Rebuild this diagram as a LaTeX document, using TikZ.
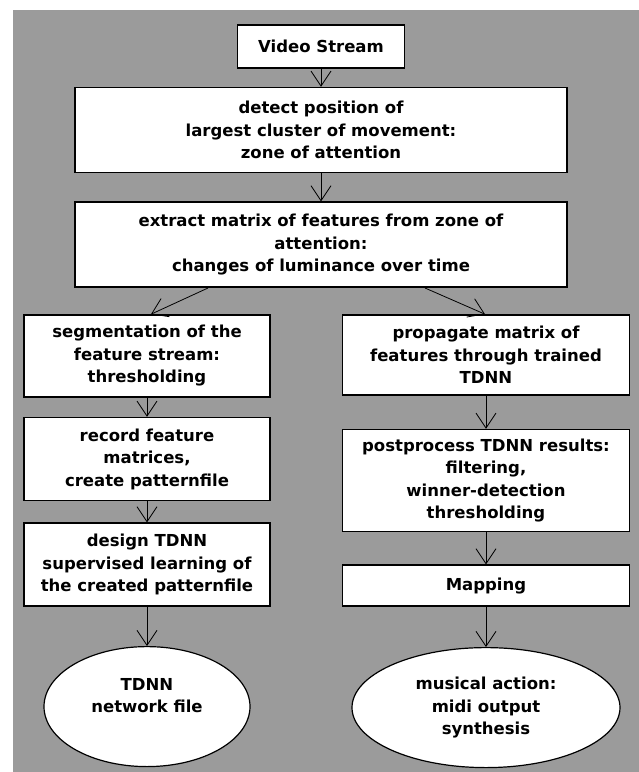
\documentclass[tikz,border=0pt]{standalone}
\usepackage{fontspec}
\setmainfont{DejaVu Sans}
\usetikzlibrary{arrows.meta,positioning,shapes.geometric}
\definecolor{bggray}{RGB}{155,155,155}

\begin{document}
\begin{tikzpicture}[
  x=1pt,y=-1pt,
  node distance=18pt and 20pt,
  box/.style={draw,line width=1.6pt,fill=white,align=center,inner sep=1pt,
              font=\bfseries\fontsize{16.5}{22.5}\selectfont},
  wide/.style={box,minimum width=492pt,minimum height=85pt},
  lcol/.style={box,minimum width=246pt,minimum height=83pt},
  rcol/.style={box,minimum width=287pt,minimum height=80pt},
  oval/.style={ellipse,draw,line width=1.2pt,fill=white,align=center,inner sep=0pt,
               minimum height=120pt,font=\bfseries\fontsize{16.5}{22.5}\selectfont},
  arr/.style={-{Straight Barb[length=15pt,width=20pt]},line width=0.8pt}
]
\useasboundingbox (0,0) rectangle (639,772);
\fill[bggray] (13,10) rectangle (639,772);

% main stream
\node[box,minimum width=167pt,minimum height=43pt] (video) at (321,46.5) {Video Stream};
\node[wide,below=18pt of video] (detect) {detect position of\\largest cluster of movement:\\zone of attention};
\node[wide,below=28pt of detect] (extract) {extract matrix of features from zone of\\attention:\\changes of luminance over time};

% training branch
\node[lcol,minimum height=82pt] (seg) at (147,356) {segmentation of the\\feature stream:\\thresholding};
\node[lcol,below=19pt of seg] (record) {record feature\\matrices,\\create patternfile};
\node[lcol,below=21pt of record] (design) {design TDNN\\supervised learning of\\the created patternfile};
\node[oval,minimum width=206pt,below=39pt of design] (netfile) {TDNN\\network file\\\mbox{}};

% recognition branch
\node[rcol] (prop) at (486,355) {propagate matrix of\\features through trained\\TDNN};
\node[rcol,minimum height=102pt,below=33pt of prop] (post) {postprocess TDNN results:\\filtering,\\winner-detection\\thresholding};
\node[rcol,minimum height=41pt,below=32pt of post] (mapping) {Mapping};
\node[oval,minimum width=268pt,below=40pt of mapping] (midi) {musical action:\\midi output\\synthesis};

\draw[arr] (video) -- (detect);
\draw[arr] (detect) -- (extract);
\draw[arr] ([xshift=-113pt]extract.south) -- ([xshift=4pt]seg.north);
\draw[arr] ([xshift=104pt]extract.south) -- ([xshift=-1pt]prop.north);
\draw[arr] (seg) -- (record);
\draw[arr] (record) -- (design);
\draw[arr] (design) -- (netfile);
\draw[arr] (prop) -- (post);
\draw[arr] (post) -- (mapping);
\draw[arr] (mapping) -- (midi);
\end{tikzpicture}
\end{document}
